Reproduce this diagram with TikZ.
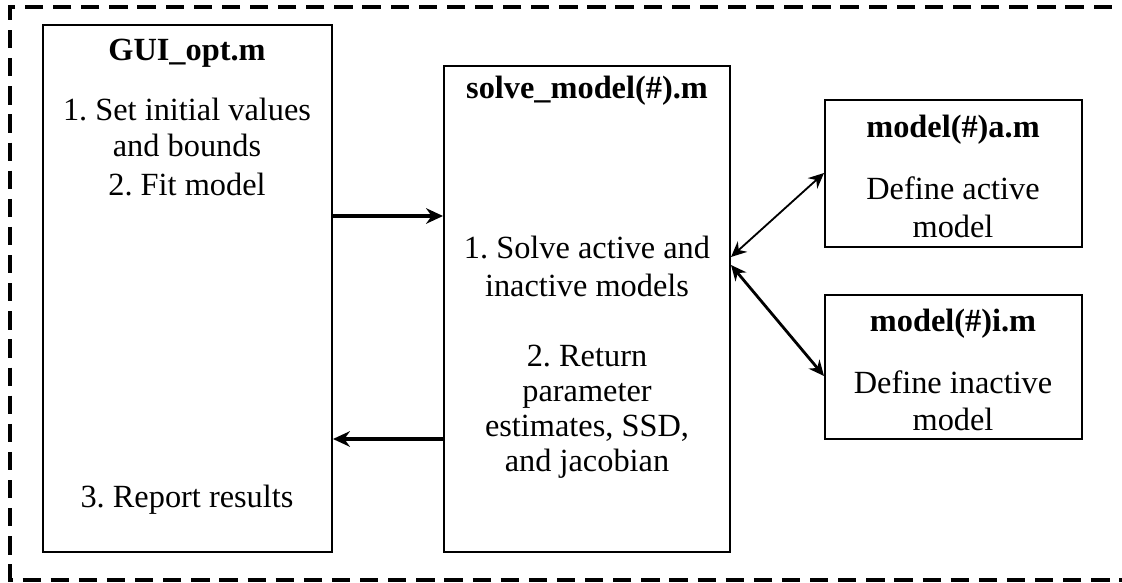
\documentclass[tikz,border=0pt]{standalone}
\usepackage{fontspec}
\setmainfont{Liberation Serif}
\usetikzlibrary{positioning,arrows.meta,calc,fit,shadows}

\tikzset{
  box/.style={draw, line width=1.4pt, fill=white, inner sep=0pt,
    drop shadow={shadow xshift=1pt, shadow yshift=-1pt, fill=gray!60, opacity=1}},
  txt/.style={anchor=base, inner sep=0pt, font=\fontsize{23}{26}\selectfont},
  ttl/.style={txt, font=\fontsize{23}{26}\selectfont\bfseries},
  flow/.style={line width=3pt, -{Stealth[length=12pt,width=11pt]}},
  link/.style={line width=1.3pt, {Stealth[length=11pt,width=10pt]}-{Stealth[length=11pt,width=10pt]}}
}
\frenchspacing

\begin{document}
\begin{tikzpicture}[x=0.025cm, y=-0.025cm]
  \useasboundingbox (0,0) rectangle (1122,583);
  \clip (0,0) rectangle (1122,583);

  % outer dashed frame, open on the right
  \draw[line width=2.8pt, dash pattern=on 13pt off 7pt] (1140,7) -- (10,7) -- (10,580) -- (1140,580);

  % the four files
  \node[box, fit={(43,25) (332,552)}] (gui) {};
  \node[box, fit={(444,66) (730,552)}] (solve) {};
  \node[box, fit={(825,100) (1082,247)}] (moda) {};
  \node[box, fit={(825,295) (1082,439)}] (modi) {};

  % GUI_opt.m
  \node[ttl] (guititle) at (187,61) {GUI\_opt.m};
  \node[txt] (guiset) at (187,121) {1. Set initial values};
  \node[txt] (guibnd) at (187,157) {and bounds};
  \node[txt] (guifit) at (187,196) {2. Fit model};
  \node[txt] (guirep) at (187,507) {3. Report results};

  % solve_model(#).m
  \node[ttl] (soltitle) at (587,99) {solve\_model(\#).m};
  \node[txt] (solve1) at (587,258) {1. Solve active and};
  \node[txt] (solve2) at (587,296) {inactive models};
  \node[txt] (ret1) at (587,366) {2. Return};
  \node[txt] (ret2) at (587,401) {parameter};
  \node[txt] (ret3) at (587,436) {estimates, SSD,};
  \node[txt] (ret4) at (587,471) {and jacobian};

  % model(#)a.m and model(#)i.m
  \node[ttl] (atitle) at (953,138) {model(\#)a.m};
  \node[txt] (adef1) at (953,200) {Define active};
  \node[txt] (adef2) at (953,238) {model};
  \node[ttl] (ititle) at (953,331) {model(\#)i.m};
  \node[txt] (idef1) at (953,393) {Define inactive};
  \node[txt] (idef2) at (953,430) {model};

  % connectors
  \coordinate (fitout) at (gui.east |- 0,216);
  \coordinate (fitin) at (solve.west |- 0,216);
  \coordinate (retout) at (solve.west |- 0,439);
  \coordinate (retin) at (gui.east |- 0,439);
  \coordinate (calla) at (solve.east |- 0,257);
  \coordinate (calli) at (solve.east |- 0,265);
  \coordinate (ina) at (moda.west |- 0,173);
  \coordinate (ini) at (modi.west |- 0,376);
  \draw[flow] (fitout) -- (fitin);
  \draw[flow] (retout) -- (retin);
  \draw[link] (calla) -- (ina);
  \draw[link, line width=2pt] (calli) -- (ini);
\end{tikzpicture}
\end{document}
